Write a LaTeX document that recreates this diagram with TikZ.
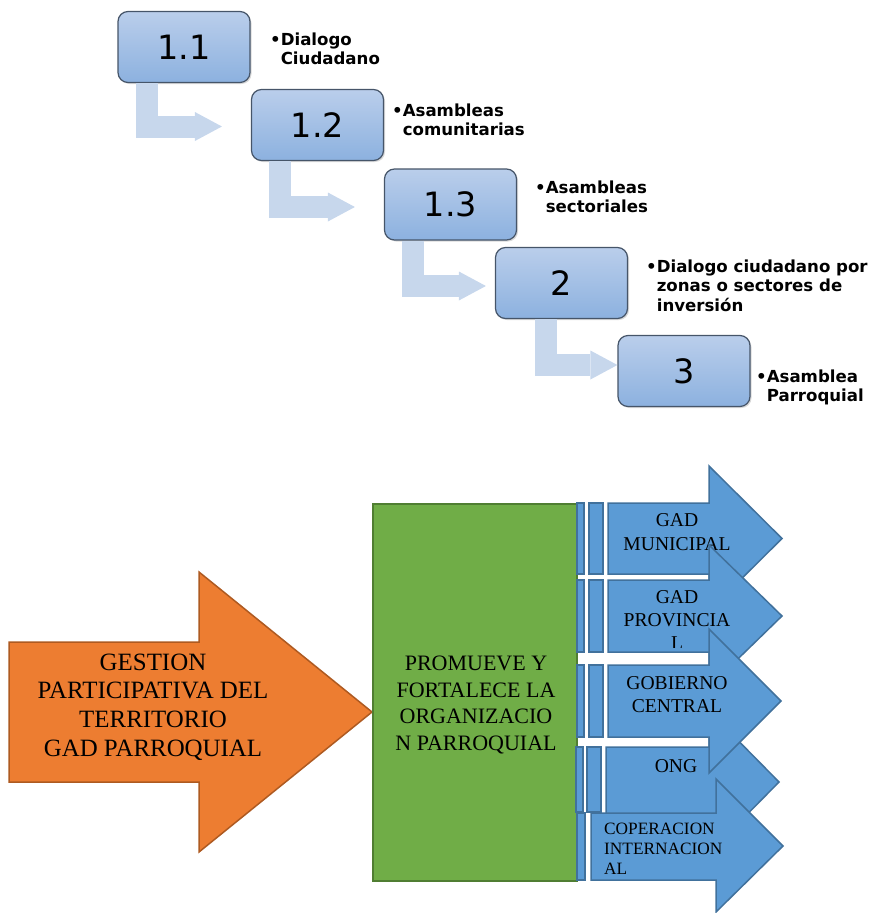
\documentclass[tikz,border=0pt]{standalone}
\usepackage{fontspec}
\setmainfont{Liberation Serif}
\newfontfamily\djsans{DejaVu Sans}
\usetikzlibrary{arrows.meta,shadows}

\definecolor{boxtop}{RGB}{186,206,235}
\definecolor{boxbot}{RGB}{140,177,223}
\definecolor{boxline}{RGB}{70,85,105}
\definecolor{bentcol}{RGB}{199,215,236}
\definecolor{orgfill}{RGB}{237,125,49}
\definecolor{orgline}{RGB}{174,90,33}
\definecolor{grnfill}{RGB}{112,173,71}
\definecolor{grnline}{RGB}{80,126,50}
\definecolor{blufill}{RGB}{91,155,213}
\definecolor{bluline}{RGB}{65,113,156}

\begin{document}
\begin{tikzpicture}[x=1pt,y=-1pt,
  numbox/.style={rounded corners=10pt, draw=boxline, line width=1.2pt,
    top color=boxtop, bottom color=boxbot, minimum width=132pt,
    minimum height=71pt, inner sep=0pt,
    font=\djsans\fontsize{33.5}{36}\selectfont,
    drop shadow={shadow xshift=1.5pt,shadow yshift=-1.5pt,opacity=0.3}},
  bent/.style={draw=bentcol, line width=22pt, line join=miter,
    -{Triangle[length=27pt,width=29pt,line width=0pt]}},
  bullettext/.style={anchor=base west, inner sep=0pt,
    font=\djsans\bfseries\fontsize{16.6}{19.5}\selectfont},
  bigtxt/.style={align=center, inner sep=0pt,
    font=\fontsize{24.9}{28.7}\selectfont},
  midtxt/.style={align=center, inner sep=0pt,
    font=\fontsize{19.6}{23.3}\selectfont},
  bluearr/.style={fill=blufill, draw=bluline, line width=1.5pt, line join=miter}
]
\useasboundingbox (0,0) rectangle (872,913);

% ---- top: numbered boxes ----
\node[numbox] (b11) at (184,47) {1.1};
\node[numbox] (b12) at (317.5,125) {1.2};
\node[numbox] (b13) at (450.5,204.5) {1.3};
\node[numbox] (b2) at (561.5,283) {2};
\node[numbox] (b3) at (684,371) {3};

% ---- bent connectors ----
\draw[bent, shorten >=29pt] ([xshift=29.5pt]b11.south west) |- ([yshift=-1.5pt]b12.west);
\draw[bent, shorten >=29pt] ([xshift=29.5pt]b12.south west) |- ([yshift=-2.5pt]b13.west);
\draw[bent, shorten >=9pt] ([xshift=29pt]b13.south west) |- ([yshift=-3pt]b2.west);
\draw[bent] ([xshift=51pt]b2.south west) |- ([yshift=6pt]b3.west);

% ---- bullet texts ----
\node[bullettext] (t11) at (270,45) {\begin{tabular}[t]{@{}l@{}l@{}}•&Dialogo\\&Ciudadano\end{tabular}};
\node[bullettext] (t12) at (392,116) {\begin{tabular}[t]{@{}l@{}l@{}}•&Asambleas\\&comunitarias\end{tabular}};
\node[bullettext] (t13) at (535,193) {\begin{tabular}[t]{@{}l@{}l@{}}•&Asambleas\\&sectoriales\end{tabular}};
\node[bullettext] (t2) at (646,272) {\begin{tabular}[t]{@{}l@{}l@{}}•&Dialogo ciudadano por\\&zonas o sectores de\\&inversión\end{tabular}};
\node[bullettext] (t3) at (756,382) {\begin{tabular}[t]{@{}l@{}l@{}}•&Asamblea\\&Parroquial\end{tabular}};

% ---- bottom: orange arrow ----
\filldraw[fill=orgfill, draw=orgline, line width=1.5pt, line join=miter]
  (9,642) -- (199,642) -- (199,572) -- (372,712) -- (199,852) -- (199,782) -- (9,782) -- cycle;
\node[bigtxt] (gest) at (153,707) {GESTION\\PARTICIPATIVA DEL\\TERRITORIO\\GAD PARROQUIAL};

% ---- green box ----
\node[draw=grnline, fill=grnfill, line width=1.5pt, minimum width=204pt,
  minimum height=377pt, inner sep=0pt] (org) at (475,692.5) {};
\node[align=center, inner sep=0pt, font=\fontsize{22}{26.7}\selectfont] (prom) at (476,705)
  {PROMUEVE Y\\FORTALECE LA\\ORGANIZACIO\\N PARROQUIAL};

% ---- blue arrows ----
% 1
\path[bluearr] (577,503) rectangle (584,574);
\path[bluearr] (589,503) rectangle (603,574);
\path[bluearr] (608,503) -- (709,503) -- (709,466) -- (782,538.5) -- (709,611) -- (709,574) -- (608,574) -- cycle;
\node[midtxt] (mun) at (677,532) {GAD\\MUNICIPAL};
% 2
\path[bluearr] (577,580) rectangle (584,652);
\path[bluearr] (589,580) rectangle (603,652);
\path[bluearr] (608,580) -- (709,580) -- (709,545) -- (782,616) -- (709,687) -- (709,652) -- (608,652) -- cycle;
\begin{scope}
  \clip (608,580) -- (709,580) -- (709,545) -- (782,616) -- (709,687) -- (709,647.5) -- (608,647.5) -- cycle;
  \node[midtxt] (prov) at (677,620) {GAD\\PROVINCIA\\L};
\end{scope}
% 4
\path[bluearr] (576,747) rectangle (583,812);
\path[bluearr] (587,747) rectangle (601,812);
\path[bluearr] (606,747) -- (709,747) -- (709,711) -- (779,782) -- (709,853) -- (709,817) -- (606,817) -- cycle;
\node[midtxt] (ong) at (676,766) {ONG};
% 3
\path[bluearr] (577,665) rectangle (584,737);
\path[bluearr] (589,665) rectangle (603,737);
\path[bluearr] (608,665) -- (709,665) -- (709,629) -- (781,701) -- (709,773) -- (709,737) -- (608,737) -- cycle;
\node[midtxt] (gob) at (677,694.5) {GOBIERNO\\CENTRAL};
% 5
\path[bluearr] (577,813) rectangle (585,880);
\path[bluearr] (591,813) -- (716,813) -- (716,779) -- (783,846) -- (716,912) -- (716,880) -- (591,880) -- cycle;
\node[align=left, anchor=west, inner sep=0pt, font=\fontsize{17.3}{20}\selectfont] (coop) at (604,849)
  {COPERACION\\INTERNACION\\AL};
\end{tikzpicture}
\end{document}
